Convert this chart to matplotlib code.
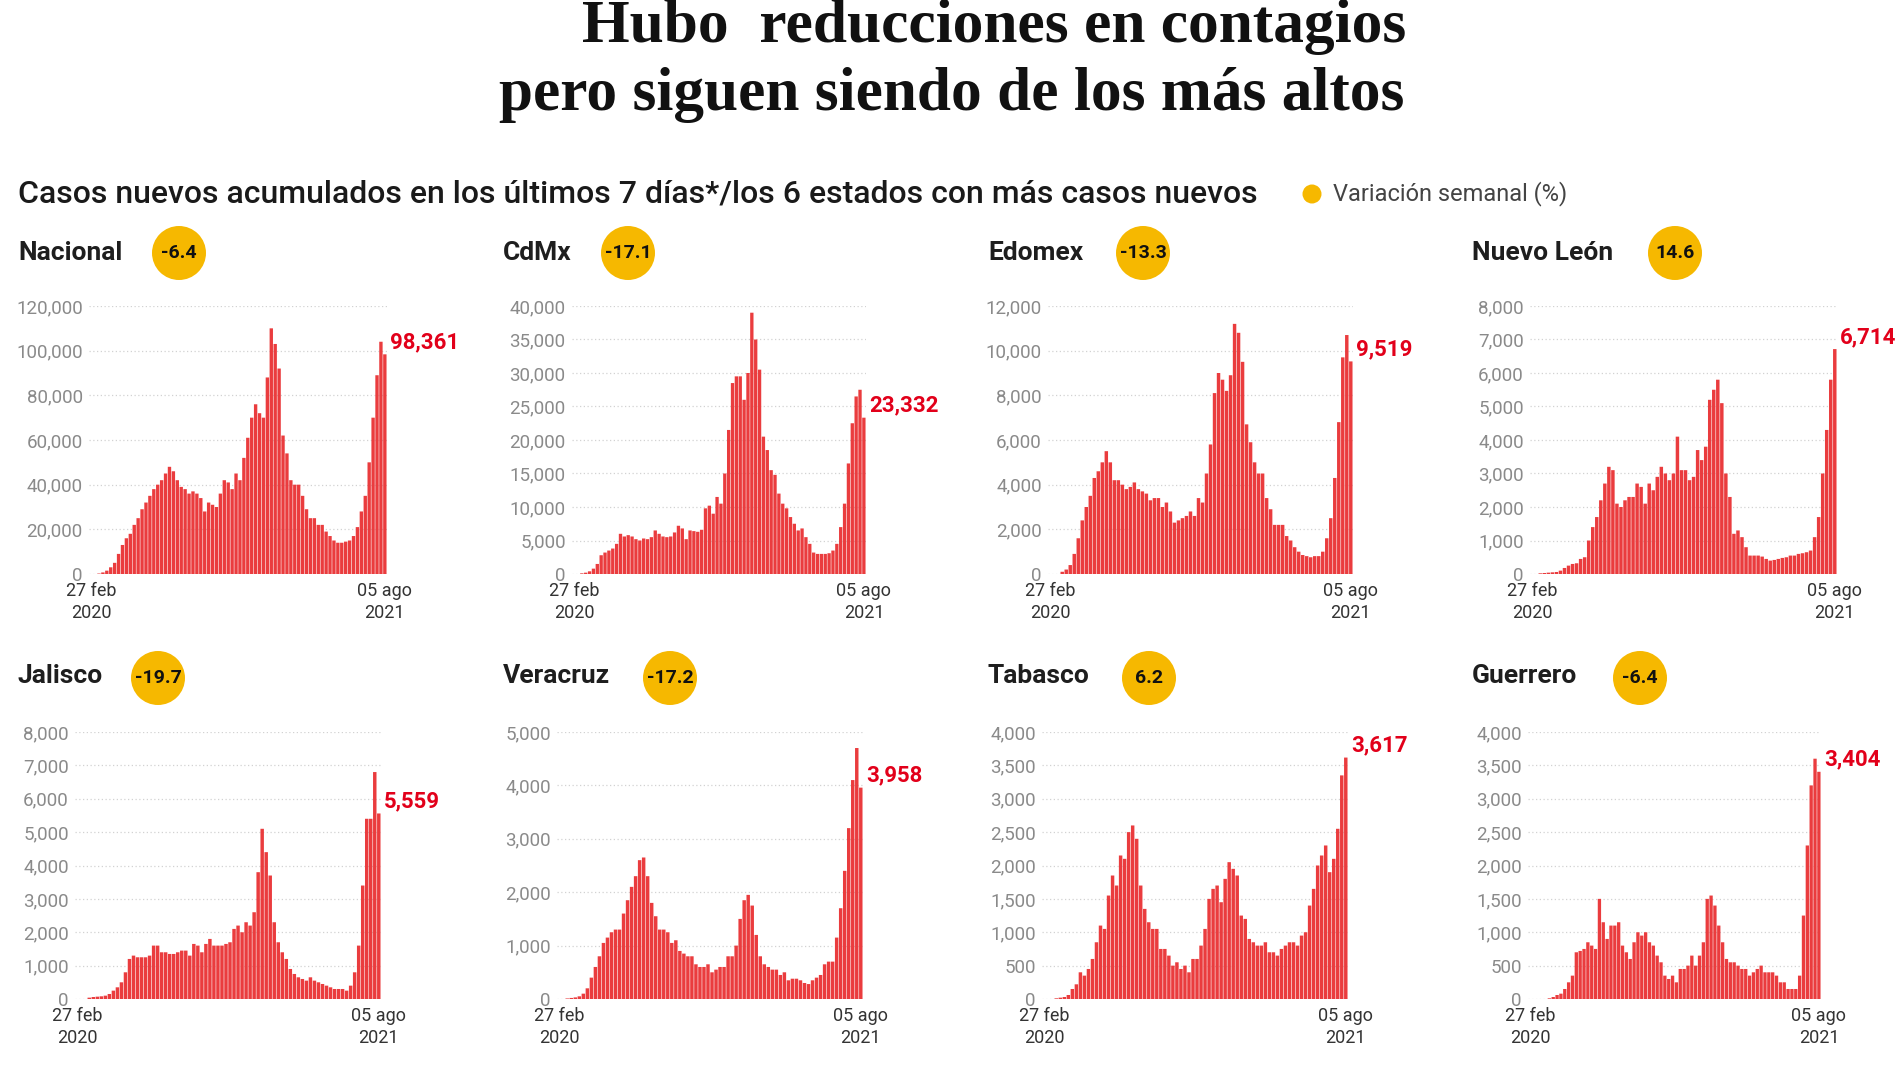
import matplotlib
matplotlib.use("Agg")
import matplotlib.pyplot as plt
from matplotlib.patches import Ellipse
import numpy as np

# ---------------- data ----------------
panel_names = ["Nacional", "CdMx", "Edomex", "Nuevo León",
               "Jalisco", "Veracruz", "Tabasco", "Guerrero"]
variacion = [-6.4, -17.1, -13.3, 14.6, -19.7, -17.2, 6.2, -6.4]
x_labels = ["27 feb\n2020", "05 ago\n2021"]

nacional = [0, 0, 200, 700, 1500, 3000, 5000, 9000, 13000, 16000, 18000, 22000, 25000,
            29000, 32000, 35000, 38000, 40000, 42000, 45000, 48000, 46000, 42000, 39000,
            38000, 36000, 37000, 36000, 34000, 28000, 32000, 31000, 30000, 36000, 42000,
            41000, 38000, 45000, 42000, 52000, 61000, 70000, 76000, 72000, 70000, 88000,
            110000, 103000, 92000, 62000, 54000, 42000, 40000, 40000, 35000, 29000, 25000,
            25000, 22000, 22000, 19000, 17000, 15000, 14000, 14000, 14500, 15000, 17000,
            21000, 28000, 35000, 50000, 70000, 89000, 104000, 98361]
cdmx = [0, 0, 100, 200, 400, 800, 1500, 2800, 3200, 3500, 3800, 4500, 6000, 5600, 5800,
        5600, 5200, 5000, 5300, 5200, 5500, 6500, 6000, 5600, 5500, 5600, 6200, 7200, 6800,
        5200, 6500, 6400, 6300, 6600, 9800, 10200, 9000, 11500, 10500, 15000, 21500, 28500,
        29500, 29500, 26000, 30000, 39000, 35000, 30500, 20500, 18500, 15500, 14800, 12000,
        10500, 9800, 8500, 7500, 6500, 6800, 5500, 4500, 3200, 3000, 3000, 3000, 3100, 3500,
        4500, 7000, 10500, 16500, 22500, 26500, 27500, 23332]
edomex = [0, 0, 0, 100, 200, 400, 900, 1600, 2400, 3000, 3500, 4300, 4600, 5000, 5500, 5000,
          4200, 4200, 4000, 3800, 3900, 4100, 3800, 3700, 3600, 3300, 3400, 3400, 3000, 3200,
          2800, 2300, 2400, 2500, 2600, 2800, 2600, 3400, 3200, 4500, 5800, 8100, 9000, 8700,
          8200, 8900, 11200, 10800, 9500, 6700, 5900, 5000, 4500, 4500, 3400, 2900, 2200, 2200,
          2200, 1700, 1500, 1200, 1000, 850, 800, 750, 800, 800, 1000, 1600, 2500, 4300, 6800,
          9700, 10700, 9519]
nuevo_leon = [0, 0, 20, 30, 40, 50, 60, 100, 180, 250, 300, 320, 450, 500, 1000, 1400, 1700,
              2200, 2700, 3200, 3100, 2100, 2000, 2200, 2300, 2300, 2700, 2600, 2100, 2700,
              2500, 2900, 3200, 3000, 2800, 3000, 4100, 3100, 3100, 2800, 2900, 3700, 3400,
              3800, 5200, 5500, 5800, 5100, 3000, 2300, 1200, 1300, 1100, 800, 550, 550, 550,
              520, 450, 400, 420, 450, 480, 500, 550, 550, 600, 620, 650, 700, 1100, 1700,
              3000, 4300, 5800, 6714]
jalisco = [0, 0, 0, 40, 60, 70, 80, 100, 150, 250, 350, 500, 800, 1200, 1300, 1250, 1250, 1250,
           1300, 1600, 1600, 1400, 1400, 1350, 1350, 1400, 1450, 1450, 1300, 1650, 1600, 1400,
           1650, 1800, 1600, 1600, 1600, 1650, 1700, 2100, 2200, 2000, 2300, 2200, 2600, 3800,
           5100, 4400, 3700, 2300, 1700, 1400, 1200, 900, 750, 650, 600, 550, 650, 550, 500,
           450, 400, 350, 300, 300, 300, 250, 400, 800, 1600, 3400, 5400, 5400, 6800, 5559]
veracruz = [0, 0, 10, 20, 30, 50, 100, 200, 400, 600, 800, 1050, 1150, 1250, 1300, 1300, 1600,
            1850, 2100, 2300, 2600, 2650, 2300, 1800, 1550, 1300, 1300, 1250, 1050, 1100, 900,
            850, 800, 800, 650, 600, 600, 650, 500, 550, 600, 600, 800, 800, 1000, 1500, 1850,
            1950, 1750, 1200, 800, 650, 600, 550, 550, 450, 500, 350, 380, 380, 350, 300, 280,
            350, 400, 450, 650, 700, 700, 1150, 1700, 2400, 3200, 4100, 4700, 3958]
tabasco = [0, 0, 0, 10, 20, 30, 60, 150, 220, 400, 350, 450, 600, 850, 1100, 1050, 1550, 1850,
           1700, 2150, 2100, 2500, 2600, 2400, 1700, 1350, 1150, 1050, 1050, 750, 750, 650, 500,
           550, 450, 500, 400, 600, 600, 800, 1050, 1500, 1650, 1700, 1450, 1800, 2050, 1950,
           1850, 1250, 1200, 900, 850, 800, 800, 850, 700, 700, 650, 750, 800, 850, 850, 800,
           950, 1000, 1400, 1650, 2000, 2150, 2300, 1900, 2100, 2550, 3350, 3617]
guerrero = [0, 0, 0, 0, 0, 10, 30, 60, 80, 150, 250, 350, 700, 720, 750, 850, 800, 750, 1500,
            1150, 900, 1100, 1100, 1150, 800, 700, 600, 850, 1000, 950, 1000, 850, 800, 650,
            550, 350, 300, 350, 250, 450, 450, 500, 650, 500, 650, 850, 1500, 1550, 1400, 1100,
            850, 600, 550, 550, 500, 450, 450, 350, 400, 450, 500, 400, 400, 400, 350, 250, 250,
            150, 150, 150, 350, 1250, 2300, 3200, 3600, 3404]

series = [nacional, cdmx, edomex, nuevo_leon, jalisco, veracruz, tabasco, guerrero]
y_max = [120000, 40000, 12000, 8000, 8000, 5000, 4000, 4000]
y_step = [20000, 5000, 2000, 1000, 1000, 1000, 500, 500]

# ---------------- layout (pixels of a 1900x1068 canvas) ----------------
W, H = 1900, 1068
ax_lr = [(89, 387), (572, 866), (1048, 1353), (1530, 1837),
         (75, 381), (557, 863), (1042, 1348), (1528, 1821)]
row_tb = [(306, 574), (732, 999)]
name_x = [18, 503, 988, 1472]
name_y = [253, 676]
badge_xy = [(179, 253), (628, 253), (1143, 253), (1675, 253),
            (158, 678), (670, 678), (1149, 678), (1640, 678)]
badge_r = 27

BAR = "#EA3C3E"
RED = "#E2001A"
GOLD = "#F6B800"
FONT = ["Roboto", "DejaVu Sans"]

plt.rcParams["font.family"] = FONT

fig = plt.figure(figsize=(W / 100, H / 100), dpi=100)
fig.patch.set_facecolor("white")
renderer = fig.canvas.get_renderer()


def fx(x):
    return x / W


def fy(y):
    return 1 - y / H


def fit_width(t, target):
    w = t.get_window_extent(renderer).width
    t.set_fontsize(t.get_fontsize() * target / w)


SERIF = ["Liberation Serif", "DejaVu Serif"]
# titles
t1 = fig.text(fx(582), fy(42), "Hubo  reducciones en contagios", ha="left", va="baseline",
              family=SERIF, weight="bold", fontsize=40, color="#111111")
fit_width(t1, 823)
t2 = fig.text(fx(499), fy(110), "pero siguen siendo de los más altos", ha="left", va="baseline",
              family=SERIF, weight="bold", fontsize=40, color="#111111")
fit_width(t2, 903)

# subtitle
st = fig.text(fx(18), fy(194), "Casos nuevos acumulados en los últimos 7 días*/los 6 estados con más casos nuevos",
              ha="left", va="center", fontsize=20, weight="medium", color="#1a1a1a")
fit_width(st, 1242)

# legend
fig.add_artist(Ellipse((fx(1312), fy(194)), 19 / W, 19 / H, transform=fig.transFigure,
                       facecolor=GOLD, edgecolor="none"))
lg = fig.text(fx(1333), fy(194), "Variación semanal (%)", ha="left", va="center",
              fontsize=15, color="#444444")
fit_width(lg, 234)

for i, vals in enumerate(series):
    row = i // 4
    col = i % 4
    l, r = ax_lr[i]
    top, bot = row_tb[row]
    ax = fig.add_axes([fx(l), fy(bot), (r - l) / W, (bot - top) / H])
    x = np.arange(len(vals))
    ax.bar(x, vals, width=0.86, color=BAR, edgecolor="none", zorder=2, snap=False)
    ax.set_xlim(-0.55, len(vals) - 0.45)
    ax.set_ylim(0, y_max[i])
    ticks = np.arange(0, y_max[i] + 1, y_step[i])
    ax.set_yticks(ticks)
    ax.set_yticklabels([f"{int(t):,}" for t in ticks])
    ax.set_xticks([0, len(vals) - 1])
    ax.set_xticklabels(x_labels)
    ax.tick_params(axis="y", length=0, pad=4.5, labelsize=13.5, labelcolor="#8a8a8a")
    ax.tick_params(axis="x", length=0, pad=6, labelsize=13, labelcolor="#333333")
    for lbl in ax.get_xticklabels():
        lbl.set_linespacing(1.25)
    for s in ax.spines.values():
        s.set_visible(False)
    ax.grid(axis="y", color="#d2d2d2", linestyle=(0, (1, 2)), linewidth=0.9, zorder=0)
    ax.set_axisbelow(True)
    ax.patch.set_alpha(0)
    last = vals[-1]
    ax.annotate(f"{last:,}", xy=(len(vals) - 0.45, last), xytext=(3, 12),
                textcoords="offset pixels", ha="left", va="center", color=RED,
                fontsize=16, weight="bold", annotation_clip=False)

    # panel name
    fig.text(fx(name_x[col]), fy(name_y[row]), panel_names[i], ha="left", va="center",
             fontsize=19, weight="bold", color="#1e1e1e")
    bx, by = badge_xy[i]
    fig.add_artist(Ellipse((fx(bx), fy(by)), 2 * badge_r / W, 2 * badge_r / H,
                           transform=fig.transFigure, facecolor=GOLD, edgecolor="none"))
    fig.text(fx(bx), fy(by), f"{variacion[i]:.1f}", ha="center", va="center",
             fontsize=14, weight="bold", color="#111111")

fig.savefig("out.png", dpi=100, facecolor="white")
